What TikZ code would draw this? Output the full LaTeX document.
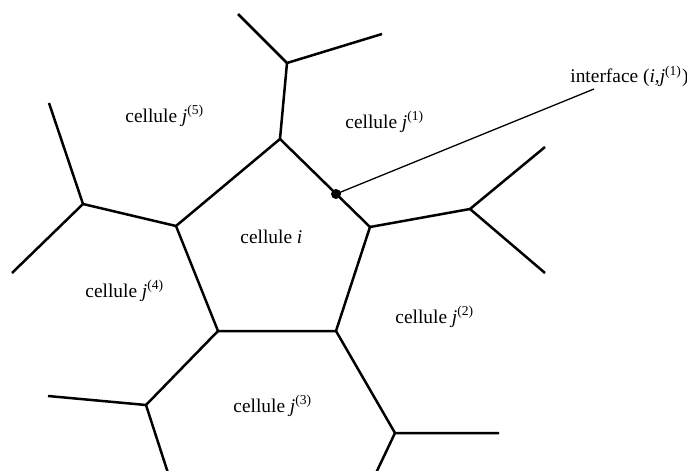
\documentclass[tikz,border=0pt]{standalone}
\usepackage{fontspec}
\setmainfont{Liberation Serif}
\begin{document}
\begin{tikzpicture}[x=0.5pt,y=-0.5pt,
  edge/.style={line width=1.25pt,line join=round},
  leader/.style={line width=0.65pt},
  lbl/.style={anchor=base west,inner sep=0pt,font=\fontsize{9.7}{12}\selectfont}]
\useasboundingbox (0,0) rectangle (687,471);
% pentagon vertices
\coordinate (pt) at (280,139);
\coordinate (pr) at (370,227);
\coordinate (pbr) at (336,331);
\coordinate (pbl) at (218,331);
\coordinate (pl) at (176,226);
% outer junctions
\coordinate (jt) at (287,63);
\coordinate (jr) at (470,209);
\coordinate (jbr) at (395,433);
\coordinate (jbl) at (146,405);
\coordinate (jl) at (83,204);
% free ends
\coordinate (e1) at (238,14);
\coordinate (e2) at (382,34);
\coordinate (e3) at (545,147);
\coordinate (e4) at (545,273);
\coordinate (e5) at (499,433);
\coordinate (e6) at (376,473);
\coordinate (e7) at (168,473);
\coordinate (e8) at (48,396);
\coordinate (e9) at (12,273);
\coordinate (e10) at (49,103);
\draw[edge] (pt) -- (pr) -- (pbr) -- (pbl) -- (pl) -- cycle;
\draw[edge] (pt) -- (jt);
\draw[edge] (e1) -- (jt) -- (e2);
\draw[edge] (pr) -- (jr);
\draw[edge] (e3) -- (jr) -- (e4);
\draw[edge] (pbr) -- (jbr);
\draw[edge] (e5) -- (jbr) -- (e6);
\draw[edge] (pbl) -- (jbl);
\draw[edge] (e8) -- (jbl) -- (e7);
\draw[edge] (pl) -- (jl);
\draw[edge] (e9) -- (jl) -- (e10);
% interface point
\node[circle,fill=black,inner sep=0pt,minimum size=5pt] (dot) at (336,194) {};
\coordinate (lend) at (594,89);
\draw[leader] (dot.center) -- (lend);
\node[lbl] (tint) at (570,83) {interface ({\itshape i},{\itshape j}\textsuperscript{(1)})};
\node[lbl] (c5) at (125,122) {cellule {\itshape j}\textsuperscript{(5)}};
\node[lbl] (c1) at (345,128) {cellule {\itshape j}\textsuperscript{(1)}};
\node[lbl] (ci) at (240,243) {cellule {\itshape i}};
\node[lbl] (c4) at (85,297) {cellule {\itshape j}\textsuperscript{(4)}};
\node[lbl] (c2) at (395,323) {cellule {\itshape j}\textsuperscript{(2)}};
\node[lbl] (c3) at (233,412) {cellule {\itshape j}\textsuperscript{(3)}};
\end{tikzpicture}
\end{document}
